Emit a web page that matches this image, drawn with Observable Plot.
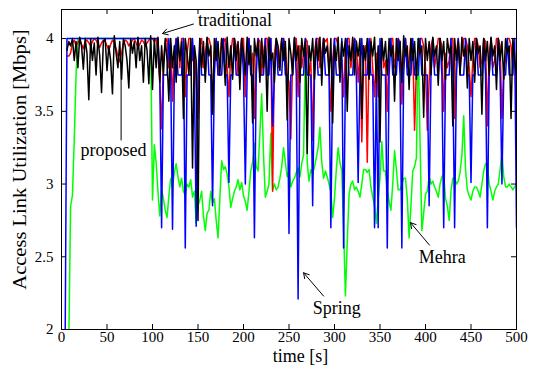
<!DOCTYPE html>
<html><head><meta charset="utf-8">
<script src="https://cdn.jsdelivr.net/npm/d3@7"></script>
<script src="https://cdn.jsdelivr.net/npm/@observablehq/plot@0.6"></script>
<style>body{margin:0;background:#fff} svg{display:block}</style>
</head><body><div id="chart"></div><script>
const step = 2; // sampling interval [s]
const xTicks = [0,50,100,150,200,250,300,350,400,450,500];
const yTicks = [2,2.5,3,3.5,4];
const xLabel = "time [s]";
const yLabel = "Access Link Utilization [Mbps]";

// black — proposed
const proposed = [
 null,null,null,3.92,3.98,3.95,4.0,3.85,3.98,3.8,
 4.01,3.95,3.79,4.0,3.9,3.58,4.0,3.85,3.97,3.75,
 4.01,3.88,3.63,3.98,4.0,3.78,3.95,3.85,3.62,4.02,
 3.9,3.8,3.98,3.72,4.0,3.95,3.85,3.66,4.0,3.9,
 3.98,3.8,4.01,3.85,3.95,3.7,4.0,3.92,3.69,4.02,
 3.65,4.0,3.8,4.01,3.7,3.95,3.75,4.0,3.85,3.57,
 4.0,3.8,3.95,3.7,4.01,3.85,3.98,3.45,4.0,3.9,
 3.75,4.0,3.11,3.95,3.85,2.75,4.0,3.8,3.98,3.7,
 4.01,3.88,3.95,3.48,4.0,3.85,3.98,3.75,4.0,3.9,
 3.68,4.01,3.8,3.95,3.72,4.0,3.85,3.98,3.65,4.0,
 3.9,3.75,4.01,3.82,3.95,3.42,4.0,3.88,3.98,3.7,
 4.0,3.8,3.95,3.5,4.01,3.85,3.9,3.7,4.0,3.95,
 3.78,4.0,3.85,3.98,3.44,4.0,3.9,3.75,4.01,3.85,
 3.95,3.7,4.0,3.88,3.98,3.21,3.95,3.85,4.0,3.72,
 3.98,3.85,4.01,3.68,4.0,3.9,3.95,3.75,4.0,3.42,
 3.95,3.85,4.01,3.7,3.98,3.88,4.0,3.5,3.95,3.85,
 4.01,3.75,3.98,3.88,4.0,3.45,3.95,3.85,4.0,3.72,
 3.98,3.88,4.01,3.7,3.95,3.29,4.0,3.85,3.98,3.75,
 4.0,3.88,3.95,3.57,4.0,3.85,3.98,3.7,4.02,3.88,
 3.95,3.65,4.0,3.85,3.98,3.72,4.0,3.9,3.95,3.46,
 4.0,3.85,3.98,3.75,4.01,3.88,3.95,3.68,4.0,3.85,
 3.98,3.72,4.0,3.9,3.95,3.4,4.0,3.85,3.98,3.75,
 4.01,3.88,3.95,3.66,4.0,3.85,3.98,3.7,4.0,3.9,
 3.95,3.48,4.0,3.85,3.98,3.75,4.01,3.88,3.95,3.65,
 4.0,3.85,3.98,3.72,4.0,3.9,3.95,3.45,4.0,3.85,
 3.75
];

// red — traditional
const traditional = [
 null,null,null,3.88,3.88,3.9,3.97,3.99,3.95,3.97,
 3.99,3.96,3.93,3.98,3.99,3.97,3.95,3.98,4.0,3.99,
 3.96,3.94,3.97,3.99,3.98,3.95,3.92,3.96,3.99,3.97,
 3.93,3.88,3.84,3.9,3.97,3.99,3.98,3.95,3.97,3.99,
 4.0,3.97,3.94,3.96,3.99,3.98,3.95,3.97,3.99,4.0,
 4.0,3.98,4.0,3.9,3.7,3.38,3.85,3.98,4.0,3.8,
 3.95,3.57,3.9,4.0,3.98,3.8,4.0,4.0,3.6,3.9,
 4.0,4.0,3.85,3.95,3.7,3.45,3.95,4.0,3.8,3.9,
 4.0,4.0,3.95,3.5,3.9,4.0,3.75,3.85,4.0,3.98,
 4.0,3.8,3.6,3.9,4.0,4.0,3.95,3.75,3.9,4.0,
 4.0,3.6,3.95,4.0,3.8,3.9,3.45,3.9,4.0,3.98,
 3.75,3.9,4.0,4.0,3.85,4.0,2.95,3.9,4.0,3.8,
 3.9,4.0,4.0,3.95,3.75,3.7,3.31,3.85,4.0,4.0,
 3.6,3.95,3.8,3.9,4.0,3.98,3.75,3.85,3.30,3.9,
 4.0,4.0,3.8,3.9,4.0,3.98,4.0,3.8,3.5,3.85,
 4.0,4.0,3.95,3.75,3.85,3.6,3.95,4.0,4.0,3.8,
 3.9,4.0,3.98,3.7,3.9,3.29,3.85,3.95,3.15,3.9,
 4.0,3.8,3.6,3.9,3.6,3.95,4.0,3.8,3.85,3.5,
 3.95,4.0,4.0,3.8,3.9,4.0,3.98,3.55,3.9,4.0,
 3.8,3.85,4.0,3.95,3.37,3.8,3.9,4.0,4.0,3.95,
 3.8,3.37,3.7,3.95,4.0,3.8,3.9,4.0,4.0,3.95,
 3.5,3.9,3.8,3.85,4.0,4.0,3.45,3.9,4.0,3.8,
 3.9,4.0,4.0,3.95,3.8,3.6,3.85,4.0,4.0,3.95,
 3.8,3.85,4.0,3.98,3.4,3.9,4.0,3.8,3.85,4.0,
 4.0,3.95,3.45,3.8,3.85,4.0,4.0,3.95,3.8,3.9,
 3.5
];

// blue — Spring
const spring = [
 1.9,1.9,1.9,4,4,4,4,4,4,4,
 4,4,4,4,4,4,4,4,4,4,
 4,4,4,4,4,4,4,4,4,4,
 4,4,4,4,4,4,4,4,4,4,
 4,4,4,4,4,4,4,4,4,4,
 4,4,4,4,3.75,2.70,3.75,3.75,3.75,4,
 3.75,2.69,3.75,4,3.75,3.75,3.75,4,2.56,3.75,
 3.75,3.75,4,3.75,2.71,3.75,4,3.75,3.75,3.75,
 4,3.75,3.75,2.85,3.75,4,3.75,3.75,3.75,4,
 3.75,3.75,3.01,3.75,3.75,4,3.75,3.75,3.75,4,
 3.75,3.0,3.75,4,3.75,3.75,2.63,3.75,4,3.75,
 3.75,3.75,4,3.75,3.75,4,3.4,3.75,4,3.75,
 3.75,3.75,4,3.75,3.75,2.66,3.75,3.75,4,3.75,
 2.21,3.75,3.75,3.75,4,3.75,3.75,3.75,2.85,3.75,
 4,3.75,3.75,3.75,4,3.75,3.75,3.75,2.70,3.75,
 4,3.75,3.75,3.75,4,2.56,3.75,4,3.75,3.75,
 3.75,4,3.75,3.01,3.75,4,3.75,3.75,3.75,4,
 3.75,3.75,2.70,3.75,2.70,4,3.75,3.75,3.75,2.56,
 3.75,4,3.75,3.75,3.75,4,3.75,2.56,3.75,4,
 3.75,3.75,3.75,4,3.75,3.75,3.75,4,3.75,3.75,
 3.75,3.75,2.85,3.75,4,3.75,3.75,3.75,4,3.75,
 2.70,3.75,3.75,3.75,4,3.75,2.70,3.75,4,3.75,
 3.75,3.75,4,3.75,3.75,3.01,3.75,3.75,4,3.75,
 3.75,3.75,4,3.75,2.70,3.75,4,3.75,3.75,3.75,
 4,3.75,3.0,3.75,3.75,4,3.75,3.75,3.75,4,
 2.70
];

// green — Mehra
const mehra = [
 1.9,1.9,1.9,1.9,1.9,2.85,2.92,3.3,3.75,4.0,
 4,4,4,4,4,4,4,4,4,4,
 4,4,4,4,4,4,4,4,4,4,
 4,4,4,4,4,4,4,4,4,4,
 4,4,4,4,4,4,4,4,4,4,
 2.89,3.27,3.15,2.95,2.78,2.96,2.9,2.82,2.77,2.92,
 3.04,2.98,3.08,3.14,3.05,2.98,3.04,2.95,2.92,3.0,
 2.98,3.03,2.91,2.95,2.73,2.85,2.89,2.95,2.78,2.68,
 2.8,2.82,2.95,2.87,2.9,2.75,2.63,2.9,3.16,3.1,
 3.12,3.07,2.98,2.84,2.9,2.95,2.98,3.03,2.96,3.01,
 2.92,2.88,2.82,2.95,3.09,3.15,3.28,3.12,3.09,3.35,
 3.62,3.2,2.91,2.95,3.0,3.35,2.96,3.0,2.96,2.98,
 3.04,3.12,3.25,3.15,3.05,3.09,2.98,3.02,3.04,3.08,
 3.11,3.05,3.14,3.2,3.94,3.15,3.02,3.1,3.07,3.12,
 3.18,3.25,3.39,3.15,3.04,3.09,3.05,3.0,2.95,2.77,
 2.9,3.1,3.25,3.15,3.09,2.7,2.23,2.6,2.93,3.0,
 3.02,2.96,2.98,2.95,2.91,3.0,3.1,3.1,3.08,3.1,
 2.98,2.91,2.85,2.73,2.9,3.04,3.29,3.09,3.09,2.96,
 2.88,2.82,3.0,3.23,3.1,2.96,2.96,3.0,3.04,3.04,
 2.9,2.63,2.85,3.09,3.12,3.18,4.0,3.3,2.68,2.8,
 2.93,2.95,3.05,3.0,3.02,2.98,2.95,2.91,3.0,3.05,
 3.07,2.9,2.85,2.75,2.95,3.04,3.04,3.0,3.02,3.08,
 3.2,3.47,3.1,2.96,2.92,2.89,2.95,2.98,2.98,2.95,
 2.91,3.0,3.09,3.14,3.14,3.0,2.95,2.89,2.95,2.98,
 3.0,3.1,3.21,3.05,2.98,2.98,3.0,2.98,2.96,2.98,
 3.0
];

// annotations
const notes = [
  {text: "traditional", t: 150, v: 4.124},
  {text: "proposed", t: 21, v: 3.23},
  {text: "Spring", t: 276, v: 2.144},
  {text: "Mehra", t: 392.5, v: 2.495}
];
const arrows = [
  {t1: 145, v1: 4.1, t2: 111, v2: 4.035},
  {t1: 288, v1: 2.23, t2: 266, v2: 2.39},
  {t1: 404.4, v1: 2.58, t2: 383.5, v2: 2.735}
];
const pointer = [{t: 65.5, v1: 3.30, v2: 3.81}];

const toRows = (vals) => vals.map((v, i) => ({t: i * step, v})).filter(d => d.v != null);

const frameH = 320, frameW = 455, tk = 5;
const chart = Plot.plot({
  width: 537, height: 369,
  marginLeft: 61, marginRight: 21, marginTop: 9, marginBottom: 40,
  style: {fontFamily: "Liberation Serif", fontSize: "15px", background: "white", color: "black"},
  x: {domain: [0, 500]},
  y: {domain: [2, 4.2]},
  marks: [
    Plot.line(toRows(mehra), {x: "t", y: "v", stroke: "#00ff00", strokeWidth: 1.5, clip: true}),
    Plot.line(toRows(traditional), {x: "t", y: "v", stroke: "#ff0000", strokeWidth: 1.5, clip: true}),
    Plot.line(toRows(spring), {x: "t", y: "v", stroke: "#0000ff", strokeWidth: 1.5, clip: true}),
    Plot.line(toRows(proposed), {x: "t", y: "v", stroke: "#000000", strokeWidth: 1.5, clip: true}),
    Plot.tickX(xTicks, {x: d => d, insetTop: frameH - tk, stroke: "black"}),
    Plot.tickX(xTicks, {x: d => d, insetBottom: frameH - tk, stroke: "black"}),
    Plot.tickY(yTicks, {y: d => d, insetRight: frameW - tk, stroke: "black"}),
    Plot.tickY(yTicks, {y: d => d, insetLeft: frameW - tk, stroke: "black"}),
    Plot.axisX({ticks: xTicks, tickSize: 0, tickPadding: 2, label: null, tickFormat: d => String(d), fontSize: 15}),
    Plot.axisY({ticks: yTicks, tickSize: 0, tickPadding: 8, label: null, tickFormat: d => String(d), fontSize: 15}),
    Plot.frame({stroke: "black"}),
    Plot.text([xLabel], {frameAnchor: "bottom", textAnchor: "middle", lineAnchor: "middle", dx: 11.5, dy: 27, fontSize: 18}),
    Plot.text([yLabel], {frameAnchor: "left", textAnchor: "middle", lineAnchor: "middle", dx: -41, dy: -10, rotate: -90, fontSize: 18}),
    Plot.text(notes, {x: "t", y: "v", text: "text", textAnchor: "start", fontSize: 18}),
    Plot.arrow(arrows, {x1: "t1", y1: "v1", x2: "t2", y2: "v2", stroke: "black", strokeWidth: 1, headLength: 9}),
    Plot.link(pointer, {x1: "t", x2: "t", y1: "v1", y2: "v2", stroke: "black", strokeWidth: 1})
  ]
});
document.getElementById("chart").appendChild(chart);
// stretch the rotated y label along its own direction to the reference length
chart.querySelectorAll("text").forEach(el => {
  if (el.textContent === yLabel) {
    const tr = el.getAttribute("transform") || "";
    el.setAttribute("transform", tr + " scale(1.14,1)");
  }
});
</script></body></html>
